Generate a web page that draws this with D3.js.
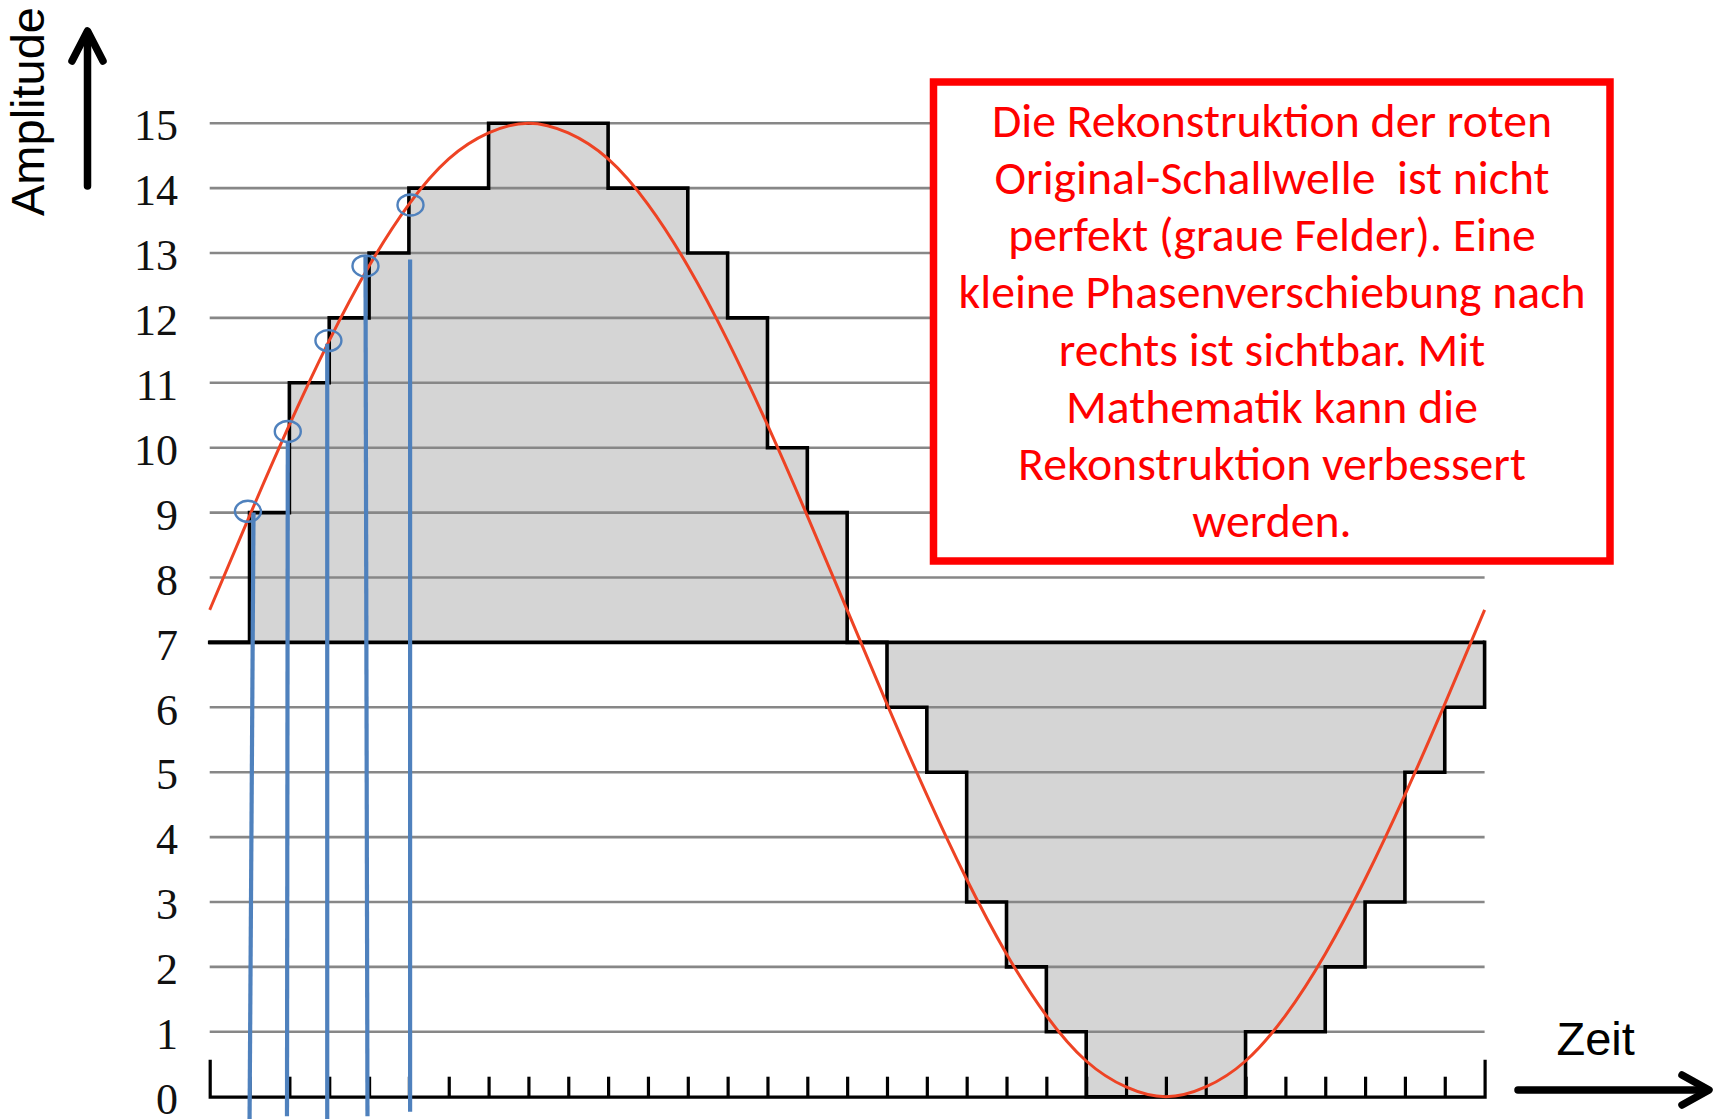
<!DOCTYPE html>
<html>
<head>
<meta charset="utf-8">
<script src="https://cdn.jsdelivr.net/npm/d3@7/dist/d3.min.js"></script>
<style>
  html, body { margin: 0; padding: 0; background: #fff; }
  svg { display: block; }
</style>
</head>
<body>
<script>
// Amplitudenstufen (Beschriftung y-Achse)
const amplitudeTicks = [0, 1, 2, 3, 4, 5, 6, 7, 8, 9, 10, 11, 12, 13, 14, 15]
// Zeitraster: Striche auf der x-Achse (ohne Beschriftung)
const timeTicks = [1, 2, 3, 4, 5, 6, 7, 8, 9, 10, 11, 12, 13, 14, 15, 16,
  17, 18, 19, 20, 21, 22, 23, 24, 25, 26, 27, 28, 29, 30, 31]

// Treppenfunktion (Rekonstruktion): Beginn jeder Stufe und ihr Wert
const stepStart = [0, 1, 2, 3, 4, 5, 7, 10, 12, 13, 14, 15, 16, 17, 18, 19, 20, 21, 22, 26, 28, 29, 30, 31]
const stepLevel = [7, 9, 11, 12, 13, 14, 15, 14, 13, 12, 10, 9, 7, 6, 5, 3, 2, 1, 0, 1, 2, 3, 5, 6]
const stepEnd = 32
const baseLevel = 7

const waveT = [0, 1, 2, 3, 4, 5, 6, 7, 8, 9, 10, 11, 12, 13, 14, 15, 16,
  17, 18, 19, 20, 21, 22, 23, 24, 25, 26, 27, 28, 29, 30, 31, 32]
const waveV = [7.5, 8.95, 10.35, 11.65, 12.8, 13.75, 14.45, 14.85, 15, 14.85, 14.45, 13.75, 12.8,
  11.65, 10.35, 8.95, 7.5, 6.05, 4.65, 3.35, 2.2, 1.25, 0.55, 0.15, 0, 0.15, 0.55,
  1.25, 2.2, 3.35, 4.65, 6.05, 7.5]

// Abtastpunkte (blaue Kreise)
const sampleT = [0.96, 1.96, 2.98, 3.91, 5.04]
const sampleV = [9.02, 10.25, 11.65, 12.8, 13.74]

// blaue Abtastlinien: oberes und unteres Ende
const probeTopT = [1.1, 1.96, 2.95, 3.91, 5.03]
const probeTopV = [9.0, 10.1, 11.6, 12.95, 12.9]
const probeBottomT = [1.0, 1.94, 2.95, 3.96, 5.03]
const probeBottomV = [-0.4, -0.3, -0.4, -0.3, -0.23]

const noteLines = [
  'Die Rekonstruktion der roten',
  'Original-Schallwelle  ist nicht',
  'perfekt (graue Felder). Eine',
  'kleine Phasenverschiebung nach',
  'rechts ist sichtbar. Mit',
  'Mathematik kann die',
  'Rekonstruktion verbessert',
  'werden.'
]

const W = 1719
const H = 1119

const svg = d3.select('body')
  .append('svg')
  .attr('width', W)
  .attr('height', H)
  .attr('viewBox', `0 0 ${W} ${H}`)

svg.append('rect').attr('width', W).attr('height', H).attr('fill', '#fff')

const x = d3.scaleLinear().domain([0, 32]).range([209.7, 1484.6])
const y = d3.scaleLinear().domain([0, 15]).range([1096.7, 123.2])

// Stufenpunkte inkl. Abschluss nach oben auf die Grundlinie
const stepPts = stepStart.map((s, i) => [s, stepLevel[i]])
stepPts.push([stepEnd, stepLevel[stepLevel.length - 1]])
stepPts.push([stepEnd, baseLevel])

// graue Flaechen zwischen Grundlinie und Treppe
const area = d3.area()
  .curve(d3.curveStepAfter)
  .x(d => x(d[0]))
  .y0(y(baseLevel))
  .y1(d => y(d[1]))

svg.append('path')
  .datum(stepPts)
  .attr('d', area)
  .attr('fill', '#d5d5d5')

// Gitterlinien
svg.append('g')
  .selectAll('line')
  .data(amplitudeTicks.filter(v => v > 0))
  .join('line')
  .attr('x1', x(0))
  .attr('x2', x(32))
  .attr('y1', d => y(d))
  .attr('y2', d => y(d))
  .attr('stroke', '#878787')
  .attr('stroke-width', 2.6)

// Grundlinie bei 7
svg.append('line')
  .attr('x1', x(0) - 1)
  .attr('x2', x(32))
  .attr('y1', y(baseLevel))
  .attr('y2', y(baseLevel))
  .attr('stroke', '#000')
  .attr('stroke-width', 3.6)

// Treppenkontur
const stepLine = d3.line()
  .curve(d3.curveStepAfter)
  .x(d => x(d[0]))
  .y(d => y(d[1]))

svg.append('path')
  .datum(stepPts)
  .attr('d', stepLine)
  .attr('fill', 'none')
  .attr('stroke', '#000')
  .attr('stroke-width', 3.6)
  .attr('stroke-linejoin', 'miter')
  .attr('stroke-linecap', 'square')

// x-Achse mit Strichen nach oben
const xAxis = svg.append('g')
  .attr('transform', `translate(0,${y(0)})`)
  .call(d3.axisTop(x)
    .tickValues(timeTicks)
    .tickSize(20)
    .tickSizeOuter(37)
    .tickFormat(''))
xAxis.selectAll('path, line')
  .attr('stroke', '#000')
  .attr('stroke-width', 3.2)

// y-Achsenbeschriftung
const yAxis = svg.append('g')
  .attr('transform', 'translate(178,0)')
  .call(d3.axisLeft(y)
    .tickValues(amplitudeTicks)
    .tickSize(0)
    .tickPadding(0)
    .tickFormat(d => d))
yAxis.select('.domain').remove()
yAxis.attr('font-family', '"Liberation Serif", "DejaVu Serif", serif')
  .attr('font-size', 44)
yAxis.selectAll('text')
  .attr('dy', '0.38em')
  .attr('fill', '#111')

// rote Welle
const wave = d3.line()
  .curve(d3.curveNatural)
  .x((d, i) => x(waveT[i]))
  .y(d => y(d))

svg.append('path')
  .datum(waveV)
  .attr('d', wave)
  .attr('fill', 'none')
  .attr('stroke', '#ee4324')
  .attr('stroke-width', 3)

// blaue Abtastlinien
svg.append('g')
  .selectAll('line')
  .data(probeTopT)
  .join('line')
  .attr('x1', (d, i) => x(probeTopT[i]))
  .attr('y1', (d, i) => y(probeTopV[i]))
  .attr('x2', (d, i) => x(probeBottomT[i]))
  .attr('y2', (d, i) => y(probeBottomV[i]))
  .attr('stroke', '#4f81bd')
  .attr('stroke-width', 4.2)

// blaue Kreise an den Abtastpunkten
svg.append('g')
  .selectAll('ellipse')
  .data(sampleT)
  .join('ellipse')
  .attr('cx', (d, i) => x(sampleT[i]))
  .attr('cy', (d, i) => y(sampleV[i]))
  .attr('rx', 13)
  .attr('ry', 10.5)
  .attr('fill', 'none')
  .attr('stroke', '#4f81bd')
  .attr('stroke-width', 2.4)

// Hinweisbox
svg.append('rect')
  .attr('x', 933.5)
  .attr('y', 82)
  .attr('width', 676.5)
  .attr('height', 479)
  .attr('fill', '#fff')
  .attr('stroke', '#ff0000')
  .attr('stroke-width', 7.5)

const note = svg.append('g')
  .attr('font-family', 'Carlito, Calibri, Lato, "Open Sans", sans-serif')
  .attr('fill', '#ff0000')
  .attr('text-anchor', 'middle')

const noteText = note.selectAll('text')
  .data(noteLines)
  .join('text')
  .attr('xml:space', 'preserve')
  .style('white-space', 'pre')
  .attr('x', 1272)
  .attr('y', (d, i) => 136.7 + i * 57.2)
  .attr('font-size', 100)
  .text(d => d)

// Schriftgroesse so waehlen, dass die laengste Zeile passt
const longest = d3.max(noteText.nodes(), n => n.getComputedTextLength())
noteText.attr('font-size', 100 * 627 / longest)

// Achsentitel und Pfeile
svg.append('text')
  .attr('transform', 'translate(44,111.5) rotate(-90)')
  .attr('text-anchor', 'middle')
  .attr('font-family', '"Liberation Sans", Arial, sans-serif')
  .attr('font-size', 47)
  .attr('fill', '#000')
  .text('Amplitude')

svg.append('text')
  .attr('x', 1556.5)
  .attr('y', 1055)
  .attr('font-family', '"Liberation Sans", Arial, sans-serif')
  .attr('font-size', 47)
  .attr('fill', '#000')
  .text('Zeit')

const arrows = svg.append('g')
  .attr('fill', 'none')
  .attr('stroke', '#000')
  .attr('stroke-width', 7.5)
  .attr('stroke-linecap', 'round')
  .attr('stroke-linejoin', 'round')

arrows.append('path').attr('d', 'M87.5,186V33')
arrows.append('path').attr('d', 'M72,61L87.5,31L103,61')
arrows.append('path').attr('d', 'M1518,1090H1707')
arrows.append('path').attr('d', 'M1682,1075L1709,1090L1682,1105')
</script>
</body>
</html>
